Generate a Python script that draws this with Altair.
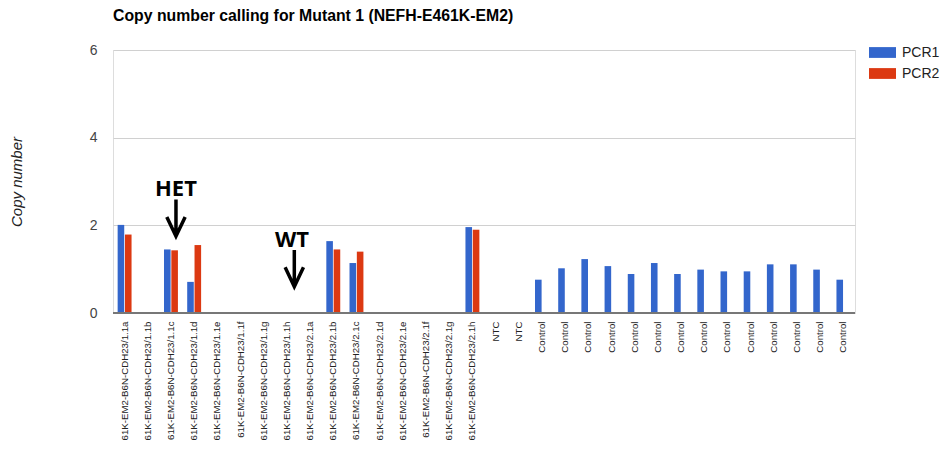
import json
import altair as alt
import pandas as pd

samples = [
    "61K-EM2-B6N-CDH23/1.1a", "61K-EM2-B6N-CDH23/1.1b", "61K-EM2-B6N-CDH23/1.1c",
    "61K-EM2-B6N-CDH23/1.1d", "61K-EM2-B6N-CDH23/1.1e", "61K-EM2-B6N-CDH23/1.1f",
    "61K-EM2-B6N-CDH23/1.1g", "61K-EM2-B6N-CDH23/1.1h", "61K-EM2-B6N-CDH23/2.1a",
    "61K-EM2-B6N-CDH23/2.1b", "61K-EM2-B6N-CDH23/2.1c", "61K-EM2-B6N-CDH23/2.1d",
    "61K-EM2-B6N-CDH23/2.1e", "61K-EM2-B6N-CDH23/2.1f", "61K-EM2-B6N-CDH23/2.1g",
    "61K-EM2-B6N-CDH23/2.1h", "NTC", "NTC",
    "Control", "Control", "Control", "Control", "Control", "Control", "Control",
    "Control", "Control", "Control", "Control", "Control", "Control", "Control",
]
pcr1 = [2.01, None, 1.45, 0.71, None, None, None, None, None, 1.64, 1.14, None,
        None, None, None, 1.96, None, None,
        0.76, 1.02, 1.23, 1.07, 0.89, 1.14, 0.89, 0.99, 0.95, 0.95, 1.11, 1.11, 0.99, 0.76]
pcr2 = [1.79, None, 1.43, 1.55, None, None, None, None, None, 1.45, 1.40, None,
        None, None, None, 1.90, None, None,
        None, None, None, None, None, None, None, None, None, None, None, None, None, None]
series_names = ["PCR1", "PCR2"]
series_colors = ["#3366cc", "#dc3912"]

ann_text = ["HET", "WT"]
ann_idx = [2, 7]
ann_text_y = [2.67, 1.51]
ann_arrow_y = [2.17, 1.02]

rows = []
for i, (a, b) in enumerate(zip(pcr1, pcr2)):
    if a is not None:
        rows.append({"idx": i, "series": "PCR1", "value": a})
    if b is not None:
        rows.append({"idx": i, "series": "PCR2", "value": b})
df = pd.DataFrame(rows)

FONT = "Liberation Sans"
x_scale = alt.Scale(domain=list(range(len(samples))), paddingInner=0.4, paddingOuter=0.2)
y_scale = alt.Scale(domain=[0, 6], nice=False)

label_expr = json.dumps(samples) + "[datum.value]"

bars = alt.Chart(df).mark_bar().encode(
    x=alt.X("idx:O", scale=x_scale,
            axis=alt.Axis(title=None, labelAngle=-90, labelExpr=label_expr,
                          labelFontSize=9.7, labelFont=FONT, labelColor="#222",
                          labelPadding=8, ticks=False, domain=False, grid=False,
                          labelOverlap=False)),
    xOffset=alt.XOffset("series:N", scale=alt.Scale(domain=series_names, paddingInner=0.1)),
    y=alt.Y("value:Q", scale=y_scale,
            axis=alt.Axis(values=[0, 2, 4, 6], title="Copy number", domain=False, ticks=False,
                          labelFontSize=14, labelFont=FONT, labelColor="#444", labelPadding=16,
                          gridColor="#d0d0d0", titleFont=FONT, titleFontSize=15,
                          titleFontStyle="italic", titleFontWeight="normal", titleColor="#222",
                          titleX=-97, titleY=131.5, titleAlign="center", titleBaseline="middle",
                          titleAngle=-90)),
    color=alt.Color("series:N", scale=alt.Scale(domain=series_names, range=series_colors),
                    legend=alt.Legend(title=None, orient="none", legendX=756, legendY=-11,
                                      symbolType="M-1,-0.4H1V0.4H-1Z", symbolSize=729,
                                      symbolStrokeWidth=0, labelFontSize=14, labelFont=FONT,
                                      labelColor="#222", rowPadding=-4, labelOffset=6)),
)

zero = alt.Chart(pd.DataFrame({"value": [0]})).mark_rule(color="#777", strokeWidth=2).encode(
    y=alt.Y("value:Q", scale=y_scale)
)

layers = [bars, zero]
arrow_shape = "M0,-1L0,1M-0.5,-0.05L0,1L0.5,-0.05"
for t, i, ty, ay, dx, adx in zip(ann_text, ann_idx, ann_text_y, ann_arrow_y, [5, 5], [5, 7.4]):
    tdf = pd.DataFrame({"idx": [i], "value": [ty], "t": [t]})
    layers.append(
        alt.Chart(tdf).mark_text(font="Open Sans", fontWeight="bold", fontSize=22,
                                 baseline="alphabetic", align="center", dx=dx, color="black")
        .encode(x=alt.X("idx:O", scale=x_scale), y=alt.Y("value:Q", scale=y_scale), text="t:N")
    )
    adf = pd.DataFrame({"idx": [i], "value": [ay]})
    layers.append(
        alt.Chart(adf).mark_point(shape=arrow_shape, size=1347, filled=False, stroke="black",
                                  strokeWidth=3.5, opacity=1, xOffset=adx)
        .encode(x=alt.X("idx:O", scale=x_scale), y=alt.Y("value:Q", scale=y_scale))
    )

chart = alt.layer(*layers).properties(
    width=742, height=263, autosize="none",
    padding={"left": 105, "top": 42, "right": 85, "bottom": 129},
    title=alt.TitleParams("Copy number calling for Mutant 1 (NEFH-E461K-EM2)", anchor="start",
                          frame="group", font=FONT, fontSize=15.8, fontWeight="bold",
                          color="#000", offset=14),
).configure_view(stroke=None).configure(background="white")

chart.save("out.html", embed_options={"renderer": "svg", "actions": False})
